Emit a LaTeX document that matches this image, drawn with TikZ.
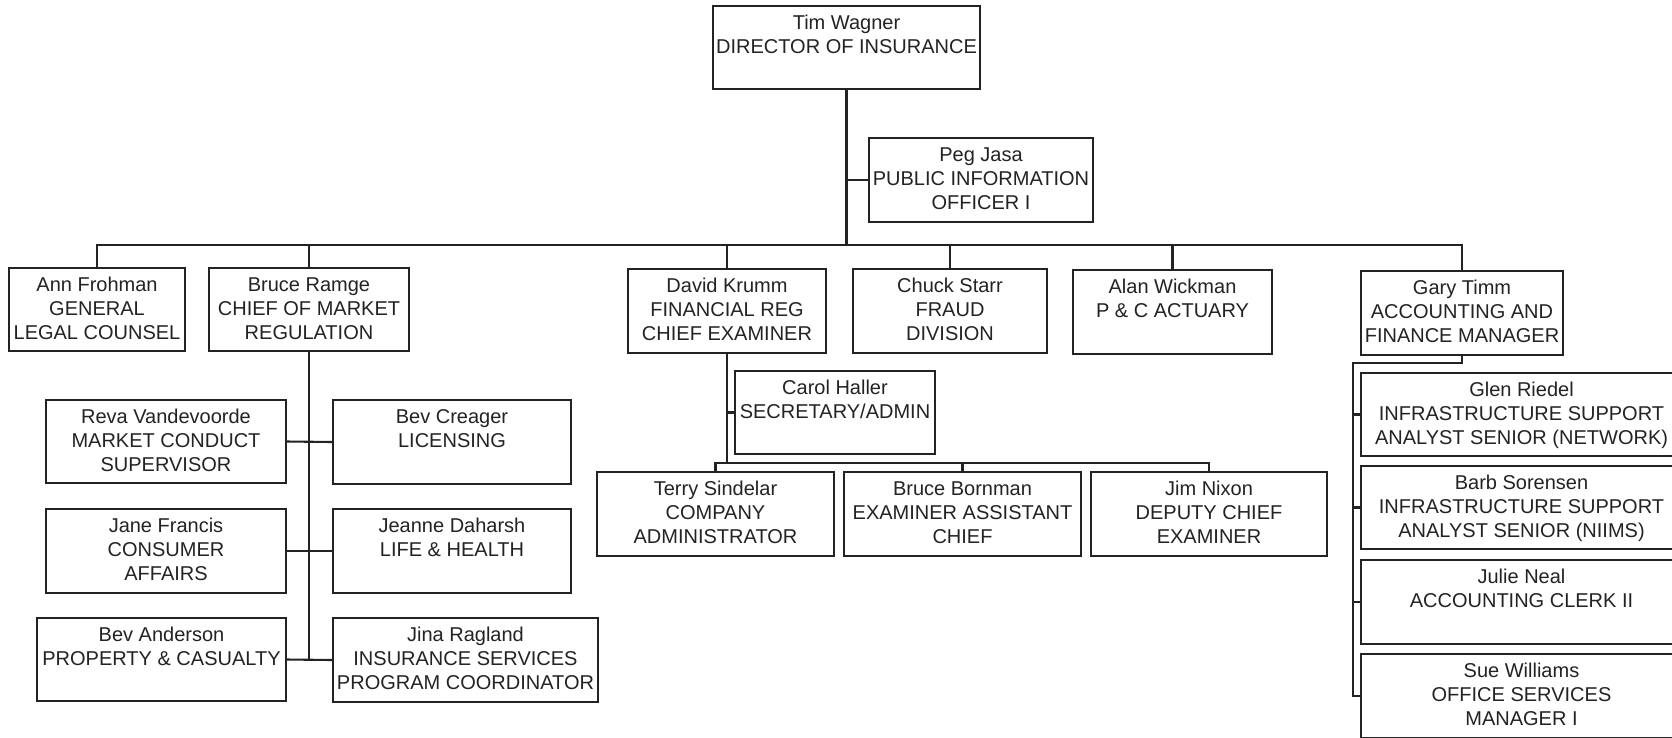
\documentclass[tikz,border=0pt]{standalone}
\usepackage{fontspec}
\setmainfont{Liberation Sans}
\definecolor{ink}{RGB}{35,35,35}
\tikzset{
  orgframe/.style={draw=ink, line width=2.1pt, inner sep=0pt, outer sep=0pt, rectangle},
  orgtext/.style={anchor=north, inner sep=0pt, align=center, text=ink, font=\fontsize{20}{24}\selectfont},
  link/.style={draw=ink, line width=2.1pt},
}
\newcommand\orgbox[6]{%
  \node[orgframe, minimum width={(#4-#2)*1pt}, minimum height={(#5-#3)*1pt}] (#1) at ({(#2+#4)/2},{(#3+#5)/2}) {};
  \node[orgtext] (#1-t) at (#1.north) {\rule{0pt}{23pt}#6};
}
\begin{document}
\begin{tikzpicture}[x=1pt,y=-1pt]
\useasboundingbox (0,0) rectangle (1672,737);
\fill[white] (0,0) rectangle (1672,737);
\clip (0,0) rectangle (1672,737);

% top
\orgbox{tim}{713}{6}{980}{89}{Tim Wagner\\DIRECTOR OF INSURANCE}
\orgbox{peg}{869}{138}{1093}{222}{Peg Jasa\\PUBLIC INFORMATION\\OFFICER I}

% second row
\orgbox{ann}{9}{268}{185}{351}{Ann Frohman\\GENERAL\\LEGAL COUNSEL}
\orgbox{bruce}{209}{268}{409}{351}{Bruce Ramge\\CHIEF OF MARKET\\REGULATION}
\orgbox{david}{628}{269}{826}{353}{David Krumm\\FINANCIAL REG\\CHIEF EXAMINER}
\orgbox{chuck}{853}{269}{1047}{353}{Chuck Starr\\FRAUD\\DIVISION}
\orgbox{alan}{1073}{270}{1272}{354}{Alan Wickman\\P \& C ACTUARY}
\orgbox{gary}{1361}{271}{1563}{355}{Gary Timm\\ACCOUNTING AND\\FINANCE MANAGER}

% market regulation
\orgbox{reva}{46}{400}{286}{483}{Reva Vandevoorde\\MARKET CONDUCT\\SUPERVISOR}
\orgbox{creager}{333}{400}{571}{484}{Bev Creager\\LICENSING}
\orgbox{jane}{46}{509}{286}{593}{Jane Francis\\CONSUMER\\AFFAIRS}
\orgbox{jeanne}{333}{509}{571}{593}{Jeanne Daharsh\\LIFE \& HEALTH}
\orgbox{bevand}{37}{618}{286}{701}{Bev Anderson\\PROPERTY \& CASUALTY}
\orgbox{jina}{333}{618}{598}{702}{Jina Ragland\\INSURANCE SERVICES\\PROGRAM COORDINATOR}

% financial regulation
\orgbox{carol}{735}{371}{935}{454}{Carol Haller\\SECRETARY/ADMIN}
\orgbox{terry}{597}{472}{834}{556}{Terry Sindelar\\COMPANY\\ADMINISTRATOR}
\orgbox{bornman}{844}{472}{1081}{556}{Bruce Bornman\\EXAMINER ASSISTANT\\CHIEF}
\orgbox{jim}{1091}{472}{1327}{556}{Jim Nixon\\DEPUTY CHIEF\\EXAMINER}

% accounting
\orgbox{glen}{1361}{373}{1682}{456}{Glen Riedel\\INFRASTRUCTURE SUPPORT\\ANALYST SENIOR (NETWORK)}
\orgbox{barb}{1361}{466}{1682}{549}{Barb Sorensen\\INFRASTRUCTURE SUPPORT\\ANALYST SENIOR (NIIMS)}
\orgbox{julie}{1361}{560}{1682}{644}{Julie Neal\\ACCOUNTING CLERK II}
\orgbox{sue}{1361}{654}{1682}{738}{Sue Williams\\OFFICE SERVICES\\MANAGER I}

% connectors
\coordinate (bus) at (846,245);
\draw[link] (tim.south) -- (tim.south |- bus);
\draw[link] (peg.west) -- (peg.west -| tim.south);
\draw[link] (ann.north) -- (ann.north |- bus) -- (gary.north |- bus) -- (gary.north);
\foreach \n in {bruce,david,chuck,alan} \draw[link] (\n.north) -- (\n.north |- bus);

\draw[link] (bruce.south) -- (bruce.south |- bevand.east);
\draw[link] (reva.east) -- (creager.west);
\draw[link] (jane.east) -- (jeanne.west);
\draw[link] (bevand.east) -- (jina.west);

\coordinate (dbus) at (727,463);
\draw[link] (david.south) -- (david.south |- dbus);
\draw[link] (carol.west) -- (carol.west -| david.south);
\draw[link] (terry.north) -- (terry.north |- dbus) -- (jim.north |- dbus) -- (jim.north);
\draw[link] (bornman.north) -- (bornman.north |- dbus);

\coordinate (gbus) at (1353,363);
\draw[link] (gary.south) -- (gary.south |- gbus) -- (gbus) -- (gbus |- sue.west) -- (sue.west);
\foreach \n in {glen,barb,julie} \draw[link] (\n.west) -- (\n.west -| gbus);
\end{tikzpicture}
\end{document}
